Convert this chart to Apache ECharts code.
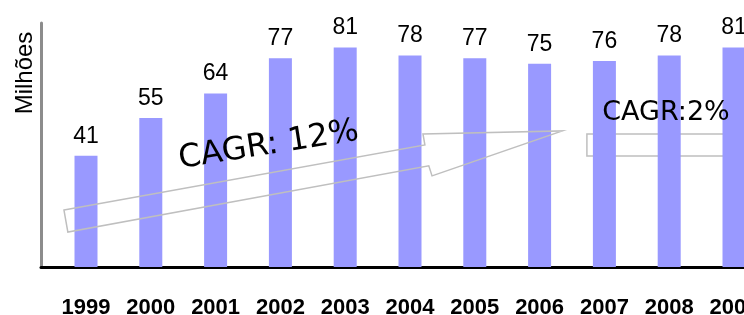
<!DOCTYPE html>
<html>
<head>
<meta charset="utf-8">
<title>Milhões</title>
<script src="https://cdn.jsdelivr.net/npm/echarts@6/dist/echarts.min.js"></script>
<style>
	html, body { margin: 0; padding: 0; background: #fff; overflow: hidden; }
	/* 图比窗口宽一点，最后一根柱子被右边裁掉 */
	#chart { width: 780px; height: 315px; }
</style>
</head>
<body>
<div id="chart"></div>
<script>
var years = ['1999', '2000', '2001', '2002', '2003', '2004', '2005', '2006', '2007', '2008', '2009'];
var values = [41, 55, 64, 77, 81, 78, 77, 75, 76, 78, 81];
var yMax = 90;

// CAGR arrows, points given as [year, milhões]
var arrow12 = [[1998.66, 21.0], [2004.23, 45.0], [2004.20, 49.1], [2006.35, 50.2], [2004.34, 33.6], [2004.29, 37.3], [1998.72, 12.9]];
var arrow2 = [[2006.73, 49.1], [2009.6, 49.1], [2009.6, 40.9], [2006.73, 40.9]];
var cagrTexts = [
	{ text: 'CAGR: 12%', at: [2001.82, 44.8], size: 32, angle: 9 },
	{ text: 'CAGR:2%', at: [2007.95, 56.8], size: 27, angle: 0 }
];

/* 布局 */
var gridTop = 23, gridBottom = 48;
var axisLeft = 41;     // 纵轴所在位置
var barsLeft = 53.6;   // 第一个类目的左边
var band = 64.8;       // 每个类目的宽度
var chartWidth = 780;

var chart = echarts.init(document.getElementById('chart'));

chart.setOption({
	animation: false,
	grid: [
		{ left: barsLeft, top: gridTop, bottom: gridBottom, width: band * years.length, outerBoundsMode: 'none' },
		{ left: axisLeft, top: gridTop, bottom: gridBottom, right: 0, outerBoundsMode: 'none' }
	],
	xAxis: [{
		type: 'category',
		gridIndex: 0,
		data: years,
		axisLine: { show: false },
		axisTick: { show: false },
		axisLabel: {
			interval: 0,
			margin: 30,
			color: '#000',
			fontSize: 22,
			fontWeight: 'bold',
			fontFamily: 'Liberation Sans, Arial, sans-serif'
		}
	}, {
		// 与类目轴对齐的数值轴，只用来画轴线和换算标注位置
		type: 'value',
		gridIndex: 1,
		min: 1998.5 - (barsLeft - axisLeft) / band,
		max: 1998.5 + (chartWidth - barsLeft) / band,
		axisLine: { show: true, onZero: false, lineStyle: { color: '#000', width: 3 } },
		axisTick: { show: false },
		axisLabel: { show: false },
		splitLine: { show: false }
	}],
	yAxis: [{
		type: 'value',
		gridIndex: 0,
		min: 0,
		max: yMax,
		show: false
	}, {
		type: 'value',
		gridIndex: 1,
		min: 0,
		max: yMax,
		axisLine: { show: true, lineStyle: { color: '#8c8c8c', width: 3 } },
		axisTick: { show: false },
		axisLabel: { show: false },
		splitLine: { show: false }
	}],
	series: [{
		type: 'bar',
		xAxisIndex: 0,
		yAxisIndex: 0,
		data: values,
		barWidth: 23,
		z: 2,
		itemStyle: { color: '#9999ff' },
		label: {
			show: true,
			position: 'top',
			distance: 8,
			color: '#000',
			fontSize: 23,
			fontFamily: 'Liberation Sans, Arial, sans-serif'
		}
	}]
});

function toPx(p) {
	return chart.convertToPixel({ gridIndex: 1 }, p);
}

var graphics = [{
	type: 'text',
	x: 25,
	y: 73,
	rotation: Math.PI / 2,
	style: {
		text: 'Milhões',
		fill: '#000',
		fontSize: 24,
		fontFamily: 'Liberation Sans, Arial, sans-serif',
		align: 'center',
		verticalAlign: 'middle'
	}
}, {
	type: 'polygon',
	z: -1,
	shape: { points: arrow2.map(function(p){ return toPx(p); }) },
	style: { fill: 'none', stroke: '#bfbfbf', lineWidth: 1.5 }
}, {
	type: 'polygon',
	z: 10,
	shape: { points: arrow12.map(function(p){ return toPx(p); }) },
	style: { fill: 'none', stroke: '#bfbfbf', lineWidth: 1.5 }
}];

cagrTexts.forEach(function(t) {
	var p = toPx(t.at);
	graphics.push({
		type: 'text',
		z: 11,
		x: p[0],
		y: p[1],
		rotation: t.angle * Math.PI / 180,
		style: {
			text: t.text,
			fill: '#000',
			fontSize: t.size,
			fontFamily: 'DejaVu Sans, Verdana, sans-serif',
			align: 'center',
			verticalAlign: 'middle'
		}
	});
});

chart.setOption({ graphic: graphics });
</script>
</body>
</html>
